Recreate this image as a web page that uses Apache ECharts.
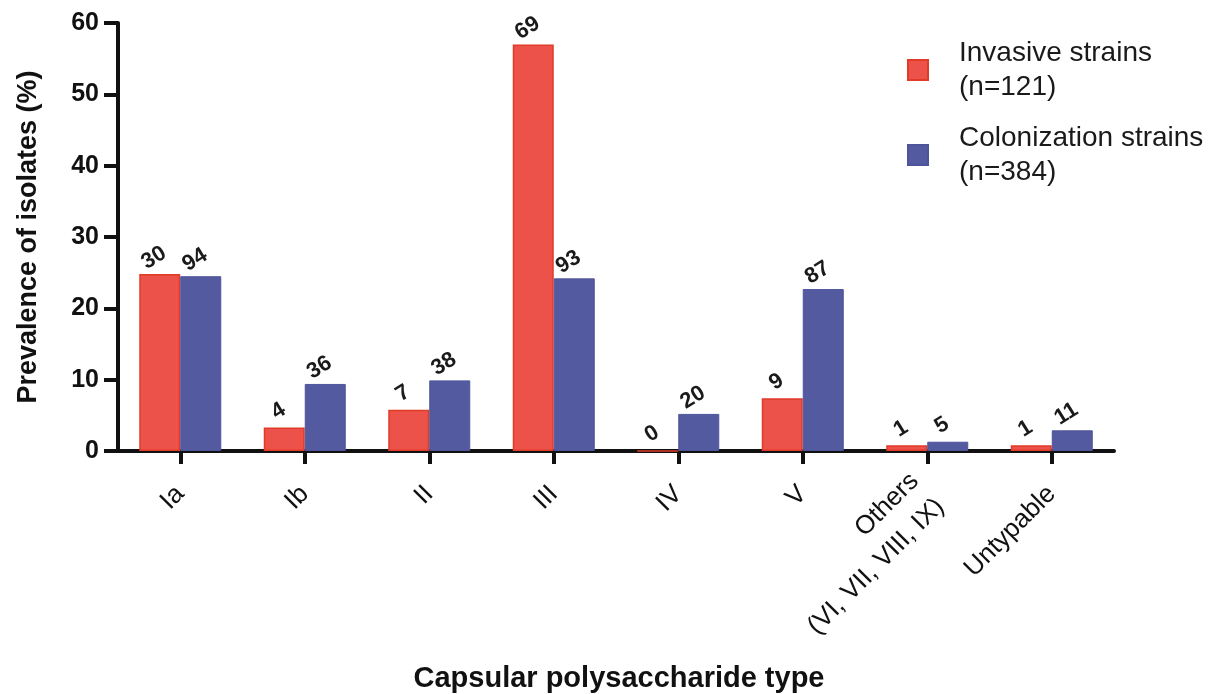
<!DOCTYPE html>
<html>
<head>
<meta charset="utf-8">
<script src="https://cdn.jsdelivr.net/npm/echarts@6/dist/echarts.min.js"></script>
<style>html,body{margin:0;padding:0;background:#fff;}#c{width:1222px;height:694px;}</style>
</head>
<body>
<div id="c"></div>
<script>
const categories = ['Ia', 'Ib', 'II', 'III', 'IV', 'V', 'Others\n(VI, VII, VIII, IX)', 'Untypable'];
const invasivePct = [24.8, 3.3, 5.8, 57.0, 0, 7.4, 0.8, 0.8];
const colonizationPct = [24.5, 9.4, 9.9, 24.2, 5.2, 22.7, 1.3, 2.9];
const invasiveCounts = [30, 4, 7, 69, 0, 9, 1, 1];
const colonizationCounts = [94, 36, 38, 93, 20, 87, 5, 11];
const yTicks = [0, 10, 20, 30, 40, 50, 60];

const FONT = 'Liberation Sans, Arial, Helvetica, sans-serif';
const chart = echarts.init(document.getElementById('c'));
const labelStyle = (counts) => ({
  show: true,
  position: 'top',
  distance: 7,
  rotate: 32,
  fontFamily: FONT,
  fontWeight: 'bold',
  fontSize: 22,
  color: '#1a1a1a',
  formatter: p => String(counts[p.dataIndex])
});
chart.setOption({
  animation: false,
  backgroundColor: '#fff',
  grid: { left: 118, right: 108, top: 23, bottom: 243, containLabel: false, outerBoundsMode: 'none' },
  legend: {
    orient: 'vertical',
    left: 902,
    top: 31,
    itemWidth: 20,
    itemHeight: 20,
    itemGap: 17,
    icon: 'rect',
    textStyle: { fontFamily: FONT, fontSize: 28, color: '#1a1a1a', lineHeight: 34, padding: [0, 0, 0, 26] },
    data: ['Invasive strains\n(n=121)', 'Colonization strains\n(n=384)']
  },
  xAxis: {
    type: 'category',
    data: categories,
    name: 'Capsular polysaccharide type',
    nameLocation: 'middle',
    nameGap: 213,
    nameTextStyle: { fontFamily: FONT, fontWeight: 'bold', fontSize: 29, color: '#111', padding: [0, 0, 0, 6] },
    axisLine: { lineStyle: { color: '#111', width: 4 } },
    axisTick: { show: true, alignWithLabel: true, length: 13, lineStyle: { color: '#111', width: 4 } },
    axisLabel: { rotate: 45, fontFamily: FONT, fontSize: 26, color: '#111', margin: 39, interval: 0, lineHeight: 36, align: 'right' }
  },
  yAxis: {
    type: 'value',
    min: 0,
    max: 60,
    interval: 10,
    name: 'Prevalence of isolates (%)',
    nameLocation: 'middle',
    nameGap: 76,
    nameTextStyle: { fontFamily: FONT, fontWeight: 'bold', fontSize: 27, color: '#111' },
    axisLine: { show: true, lineStyle: { color: '#111', width: 4 } },
    axisTick: { show: true, length: 14, lineStyle: { color: '#111', width: 4 } },
    axisLabel: { fontFamily: FONT, fontWeight: 'bold', fontSize: 25, color: '#111', margin: 19,
      formatter: v => yTicks.includes(v) ? String(v) : '' },
    splitLine: { show: false }
  },
  series: [
    {
      name: 'Invasive strains\n(n=121)',
      type: 'bar',
      data: invasivePct,
      barWidth: 41,
      barGap: '0%',
      itemStyle: { color: '#EC5249', borderColor: '#E03B27', borderWidth: 1.5 },
      label: labelStyle(invasiveCounts)
    },
    {
      name: 'Colonization strains\n(n=384)',
      type: 'bar',
      data: colonizationPct,
      barWidth: 41,
      barGap: '0%',
      itemStyle: { color: '#545A9F', borderColor: '#4E549A', borderWidth: 1 },
      label: labelStyle(colonizationCounts)
    }
  ]
});
</script>
</body>
</html>
